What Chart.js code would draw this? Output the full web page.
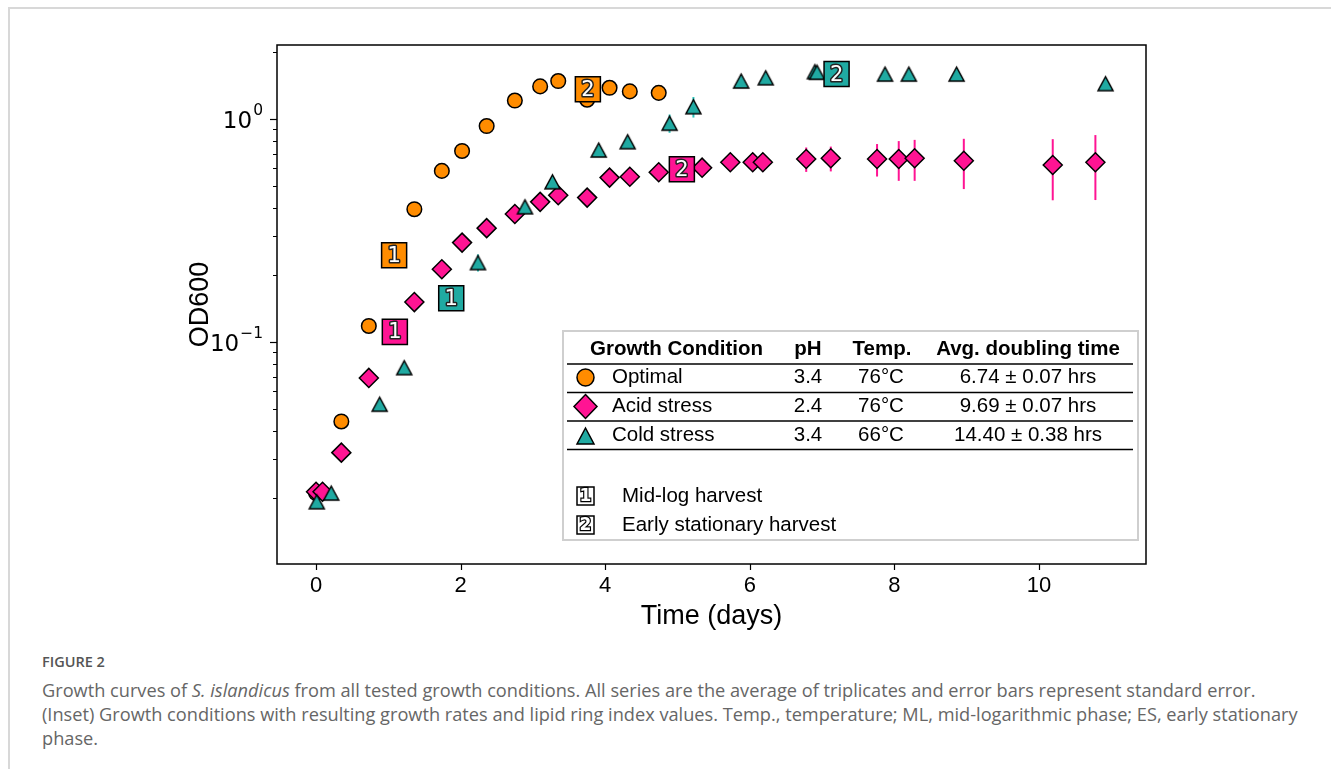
<!DOCTYPE html>
<html><head><meta charset="utf-8">
<script src="https://cdn.jsdelivr.net/npm/chart.js@4.4.1/dist/chart.umd.min.js"></script>
<style>
html,body{margin:0;padding:0;background:#fff;width:1331px;height:769px;overflow:hidden;}
#frame{position:absolute;left:8px;top:7px;width:1330px;height:770px;border-top:2px solid #d8d8d8;border-left:2px solid #d8d8d8;}
#c{position:absolute;left:0;top:0;}
.cap{position:absolute;left:42px;font-family:'Open Sans',sans-serif;color:#666;font-size:18.2px;line-height:24px;white-space:nowrap;}
</style></head><body>
<div id="frame"></div>
<canvas id="c" width="1331" height="645"></canvas>
<div class="cap" style="top:651px;font-size:14.5px;line-height:22px;font-weight:600;color:#555;">FIGURE 2</div>
<div class="cap" style="top:678px;">Growth curves of <i>S. islandicus</i> from all tested growth conditions. All series are the average of triplicates and error bars represent standard error.</div>
<div class="cap" style="top:702px;">(Inset) Growth conditions with resulting growth rates and lipid ring index values. Temp., temperature; ML, mid-logarithmic phase; ES, early stationary</div>
<div class="cap" style="top:726px;">phase.</div>
<script>
// ---- data ----
const optX = [0, 0.35, 0.73, 1.36, 1.74, 2.02, 2.36, 2.75, 3.10, 3.35, 3.75, 4.06, 4.34, 4.74];
const optY = [0.021, 0.044, 0.118, 0.394, 0.585, 0.719, 0.93, 1.21, 1.40, 1.48, 1.22, 1.38, 1.33, 1.31];

const acidX = [0, 0.09, 0.35, 0.73, 1.36, 1.74, 2.02, 2.36, 2.75, 3.10, 3.35, 3.75, 4.06, 4.34, 4.74, 5.34, 5.73, 6.04, 6.18, 6.78, 7.12, 7.76, 8.06, 8.28, 8.96, 10.19, 10.78];
const acidY = [0.0213, 0.0213, 0.0319, 0.069, 0.151, 0.212, 0.279, 0.324, 0.375, 0.425, 0.455, 0.444, 0.546, 0.551, 0.577, 0.605, 0.64, 0.64, 0.64, 0.662, 0.667, 0.662, 0.662, 0.667, 0.65, 0.622, 0.64];
const acidErr = [0, 0, 0, 0, 0, 0, 0, 0, 0, 0, 0, 0.01, 0, 0, 0, 0.03, 0.02, 0.03, 0.06, 0.083, 0.085, 0.11, 0.134, 0.139, 0.165, 0.19, 0.207];

const coldX = [0.01, 0.21, 0.88, 1.22, 2.24, 2.89, 3.27, 3.91, 4.31, 4.89, 5.22, 5.88, 6.22, 6.90, 6.93, 7.87, 8.20, 8.86, 10.92];
const coldY = [0.0192, 0.021, 0.0526, 0.0767, 0.227, 0.404, 0.523, 0.726, 0.791, 0.957, 1.135, 1.48, 1.53, 1.63, 1.62, 1.59, 1.59, 1.59, 1.44];
const coldErr = [0, 0, 0, 0, 0.02, 0.02, 0, 0, 0, 0.09, 0.12, 0.06, 0, 0, 0, 0, 0, 0, 0];

const harvestLabels = ['1', '2'];
const optHarvestX = [1.08, 3.76];
const optHarvestY = [0.245, 1.36];
const acidHarvestX = [1.09, 5.06];
const acidHarvestY = [0.111, 0.595];
const coldHarvestX = [1.87, 7.20];
const coldHarvestY = [0.157, 1.59];

const xTickValues = [0, 2, 4, 6, 8, 10];
const xTickLabels = ['0', '2', '4', '6', '8', '10'];
const yMajorTicks = [0.1, 1];
const yMajorExp = ['\u22121', '0'];
const yMinorTicks = [0.02, 0.03, 0.04, 0.05, 0.06, 0.07, 0.08, 0.09, 0.2, 0.3, 0.4, 0.5, 0.6, 0.7, 0.8, 0.9, 2];

const legendNames = ['Optimal', 'Acid stress', 'Cold stress'];
const legendPH = ['3.4', '2.4', '3.4'];
const legendTemp = ['76°C', '76°C', '66°C'];
const legendDoubling = ['6.74 ± 0.07 hrs', '9.69 ± 0.07 hrs', '14.40 ± 0.38 hrs'];
const legendHeader = ['Growth Condition', 'pH', 'Temp.', 'Avg. doubling time'];
const harvestNames = ['Mid-log harvest', 'Early stationary harvest'];

// ---- styles ----
const ORANGE = '#ff8c00', PINK = '#ff1493', TEAL = '#20aaa2';
const SANS = "'Liberation Sans', Arial, sans-serif";

function pts(xs, ys) { return xs.map((x, i) => ({ x: x, y: ys[i] })); }
function triCanvas(color, w, h) {
  const c = document.createElement('canvas');
  const pad = 2;
  c.width = w + pad * 2; c.height = h + pad * 2;
  const g = c.getContext('2d');
  g.beginPath();
  g.moveTo(c.width / 2, pad);
  g.lineTo(pad + w, pad + h);
  g.lineTo(pad, pad + h);
  g.closePath();
  g.fillStyle = color; g.fill();
  g.lineWidth = 1.5; g.strokeStyle = '#000'; g.lineJoin = 'miter'; g.stroke();
  return c;
}
const triImg = triCanvas(TEAL, 15, 14);

function drawTri(ctx, x, y, w, h, color) {
  ctx.beginPath();
  ctx.moveTo(x, y - h / 2); ctx.lineTo(x + w / 2, y + h / 2); ctx.lineTo(x - w / 2, y + h / 2); ctx.closePath();
  ctx.fillStyle = color; ctx.fill(); ctx.lineWidth = 1.5; ctx.strokeStyle = '#000'; ctx.stroke();
}

const errorBars = {
  id: 'errorBars',
  beforeDatasetsDraw(chart) {
    const ctx = chart.ctx, xs = chart.scales.x, ys = chart.scales.y;
    const sets = [[acidX, acidY, acidErr, PINK], [coldX, coldY, coldErr, '#2cc4bb']];
    ctx.save();
    ctx.lineWidth = 2;
    sets.forEach(([X, Y, E, col]) => {
      ctx.strokeStyle = col;
      X.forEach((x, i) => {
        if (!E[i]) return;
        const px = xs.getPixelForValue(x);
        ctx.beginPath();
        ctx.moveTo(px, ys.getPixelForValue(Y[i] + E[i]));
        ctx.lineTo(px, ys.getPixelForValue(Y[i] - E[i]));
        ctx.stroke();
      });
    });
    const a = chart.chartArea;
    ctx.strokeStyle = '#000'; ctx.lineWidth = 1.5;
    ctx.strokeRect(a.left, a.top, a.right - a.left, a.bottom - a.top);
    ctx.restore();
  }
};

const axesDeco = {
  id: 'axesDeco',
  afterDraw(chart) {
    const ctx = chart.ctx, xs = chart.scales.x, ys = chart.scales.y, a = chart.chartArea;
    ctx.save();
    ctx.strokeStyle = '#000'; ctx.lineWidth = 1.2;
    xTickValues.forEach(v => {
      const px = Math.round(xs.getPixelForValue(v)) + 0.5;
      ctx.beginPath(); ctx.moveTo(px, a.bottom); ctx.lineTo(px, a.bottom + 6); ctx.stroke();
    });
    yMajorTicks.forEach(v => {
      const py = Math.round(ys.getPixelForValue(v)) + 0.5;
      ctx.beginPath(); ctx.moveTo(a.left, py); ctx.lineTo(a.left - 7, py); ctx.stroke();
    });
    ctx.lineWidth = 1;
    yMinorTicks.forEach(v => {
      const py = Math.round(ys.getPixelForValue(v)) + 0.5;
      ctx.beginPath(); ctx.moveTo(a.left, py); ctx.lineTo(a.left - 4, py); ctx.stroke();
    });
    ctx.fillStyle = '#000';
    ctx.textBaseline = 'middle';
    ctx.textAlign = 'right';
    yMajorTicks.forEach((v, i) => {
      const py = ys.getPixelForValue(v);
      const right = a.left - 14;
      ctx.font = "15.5px 'DejaVu Sans', sans-serif";
      const ew = ctx.measureText(yMajorExp[i]).width;
      ctx.fillText(yMajorExp[i], right, py - 8);
      ctx.font = "23px 'DejaVu Sans', sans-serif";
      ctx.fillText('10', right - ew - 1, py + 3);
    });
    ctx.restore();
  },
  afterDatasetsDraw(chart) {
    const ctx = chart.ctx;
    ctx.save();
    ctx.font = "21px 'DejaVu Sans', sans-serif";
    ctx.textAlign = 'center'; ctx.textBaseline = 'middle';
    ctx.lineJoin = 'round';
    [0, 1, 2].forEach(di => {
      const meta = chart.getDatasetMeta(di);
      meta.data.forEach((el, i) => {
        ctx.lineWidth = 3; ctx.strokeStyle = '#222';
        ctx.strokeText(harvestLabels[i], el.x, el.y + 1);
        ctx.fillStyle = '#fff';
        ctx.fillText(harvestLabels[i], el.x, el.y + 1);
      });
    });
    ctx.restore();
  }
};

const legendTable = {
  id: 'legendTable',
  afterDraw(chart) {
    const ctx = chart.ctx;
    ctx.save();
    ctx.fillStyle = '#fff';
    ctx.fillRect(563, 331, 575, 209);
    ctx.strokeStyle = '#cfcfcf'; ctx.lineWidth = 2;
    ctx.strokeRect(563, 331, 575, 209);
    ctx.fillStyle = '#000';
    ctx.textBaseline = 'middle';
    ctx.font = "bold 20.5px " + SANS;
    ctx.textAlign = 'left'; ctx.fillText(legendHeader[0], 590, 349);
    ctx.textAlign = 'center';
    ctx.fillText(legendHeader[1], 808, 349);
    ctx.fillText(legendHeader[2], 882, 349);
    ctx.fillText(legendHeader[3], 1028, 349);
    ctx.strokeStyle = '#000'; ctx.lineWidth = 1.6;
    [364, 392.5, 421, 449.5].forEach(y => {
      ctx.beginPath(); ctx.moveTo(567, y); ctx.lineTo(1133, y); ctx.stroke();
    });
    ctx.font = "20.5px " + SANS;
    const rowsY = [377.5, 406.5, 435];
    rowsY.forEach((y, i) => {
      ctx.textAlign = 'left'; ctx.fillStyle = '#000';
      ctx.fillText(legendNames[i], 612, y);
      ctx.textAlign = 'center';
      ctx.fillText(legendPH[i], 808, y);
      ctx.fillText(legendTemp[i], 881, y);
      ctx.fillText(legendDoubling[i], 1028, y);
    });
    ctx.lineWidth = 1.5; ctx.strokeStyle = '#000';
    ctx.beginPath(); ctx.arc(585.5, rowsY[0], 8.5, 0, Math.PI * 2); ctx.fillStyle = ORANGE; ctx.fill(); ctx.stroke();
    ctx.beginPath(); const dy = rowsY[1];
    ctx.moveTo(585.5, dy - 12); ctx.lineTo(597, dy); ctx.lineTo(585.5, dy + 12); ctx.lineTo(574, dy); ctx.closePath();
    ctx.fillStyle = PINK; ctx.fill(); ctx.stroke();
    drawTri(ctx, 585.5, rowsY[2] + 1, 17, 16, TEAL);
    const hy = [496, 525];
    hy.forEach((y, i) => {
      ctx.fillStyle = '#fff'; ctx.strokeStyle = '#000'; ctx.lineWidth = 1.5;
      ctx.fillRect(577, y - 9, 17, 18); ctx.strokeRect(577, y - 9, 17, 18);
      ctx.font = "bold 17px 'DejaVu Sans', sans-serif";
      ctx.textAlign = 'center';
      ctx.lineWidth = 2.4; ctx.strokeStyle = '#000';
      ctx.strokeText(harvestLabels[i], 585.5, y + 1);
      ctx.fillStyle = '#fff';
      ctx.fillText(harvestLabels[i], 585.5, y + 1);
      ctx.font = "20.5px " + SANS;
      ctx.fillStyle = '#000'; ctx.textAlign = 'left';
      ctx.fillText(harvestNames[i], 622, y);
    });
    ctx.restore();
  }
};

const harvestStyle = (col) => ({ pointStyle: 'rect', pointRadius: 17.7, pointBackgroundColor: col, pointBorderColor: '#000', pointBorderWidth: 1.5, showLine: false });

new Chart(document.getElementById('c'), {
  type: 'scatter',
  data: {
    datasets: [
      Object.assign({ label: 'Optimal harvest', data: pts(optHarvestX, optHarvestY) }, harvestStyle(ORANGE)),
      Object.assign({ label: 'Acid harvest', data: pts(acidHarvestX, acidHarvestY) }, harvestStyle(PINK)),
      Object.assign({ label: 'Cold harvest', data: pts(coldHarvestX, coldHarvestY) }, harvestStyle(TEAL)),
      { label: 'Cold stress', data: pts(coldX, coldY), pointStyle: triImg, pointRadius: 8 },
      { label: 'Acid stress', data: pts(acidX, acidY), pointStyle: 'rectRot', pointRadius: 9.5, pointBackgroundColor: PINK, pointBorderColor: '#000', pointBorderWidth: 1.5 },
      { label: 'Optimal', data: pts(optX, optY), pointStyle: 'circle', pointRadius: 7.3, pointBackgroundColor: ORANGE, pointBorderColor: '#000', pointBorderWidth: 1.5 }
    ]
  },
  options: {
    responsive: false,
    animation: false,
    events: [],
    layout: { padding: { left: 0, top: 45, right: 185, bottom: 0 } },
    plugins: { legend: { display: false }, tooltip: { enabled: false } },
    scales: {
      x: {
        type: 'linear', min: -0.54, max: 11.48,
        grid: { display: false, drawTicks: false }, border: { display: false },
        afterBuildTicks: s => { s.ticks = xTickValues.map(v => ({ value: v })); },
        afterFit: s => { s.height = 81; },
        ticks: { padding: 9, color: '#000', font: { family: SANS, size: 22 }, callback: (v) => xTickLabels[xTickValues.indexOf(v)] ?? '' },
        title: { display: true, text: 'Time (days)', color: '#000', font: { family: SANS, size: 27 }, padding: { top: 0, bottom: 12 } }
      },
      y: {
        type: 'logarithmic', min: 0.0101, max: 2.147,
        grid: { display: false, drawTicks: false }, border: { display: false },
        afterBuildTicks: s => { s.ticks = yMinorTicks.concat(yMajorTicks).map(v => ({ value: v })); },
        afterFit: s => { s.width = 277; },
        ticks: { display: false },
        title: { display: true, text: 'OD600', color: '#000', font: { family: SANS, size: 27 }, padding: { top: 184, bottom: 0 } }
      }
    }
  },
  plugins: [errorBars, axesDeco, legendTable]
});
</script>
</body></html>
